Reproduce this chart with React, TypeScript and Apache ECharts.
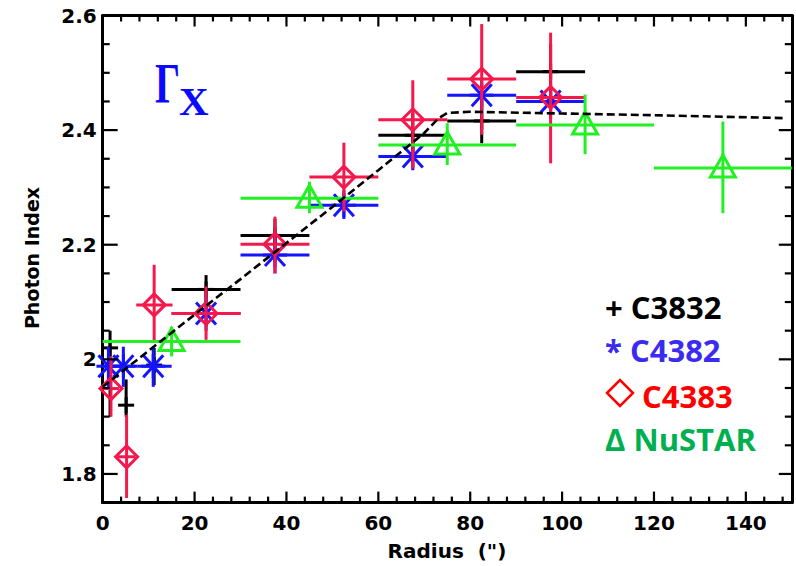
import React, { useEffect, useRef } from "react";
import * as echarts from "echarts";

// Each row: [radius, radiusLow, radiusHigh, photonIndex, indexLow, indexHigh]
const c3832 = [
  [1.6, 1.6, 1.6, 2.02, 1.9, 2.05],
  [5.1, 5.1, 5.1, 1.92, 1.9, 1.965],
  [11.2, 11.2, 11.2, 1.99, 1.955, 2.02],
  [22.5, 15, 30, 2.122, 2.095, 2.147],
  [37.5, 30, 45, 2.216, 2.17, 2.245],
  [67.5, 60, 75, 2.391, 2.35, 2.43],
  [82.5, 75, 90, 2.416, 2.377, 2.46],
  [97.5, 90, 105, 2.502, 2.45, 2.55],
];

const c4382 = [
  [1.25, 0, 2.5, 1.988, 1.952, 2.022],
  [4.5, 2.5, 7.5, 1.988, 1.952, 2.022],
  [11.0, 7.5, 15, 1.988, 1.952, 2.022],
  [22.5, 15, 30, 2.08, 2.05, 2.11],
  [37.5, 30, 45, 2.182, 2.15, 2.215],
  [52.5, 45, 60, 2.269, 2.245, 2.295],
  [67.5, 60, 75, 2.354, 2.33, 2.38],
  [82.5, 75, 90, 2.461, 2.43, 2.49],
  [97.5, 90, 105, 2.45, 2.42, 2.48],
];

const c4383 = [
  [1.8, 0, 3.6, 1.949, 1.9, 2.005],
  [5.2, 3.3, 7.1, 1.83, 1.758, 1.903],
  [11.2, 7.3, 15.2, 2.095, 2.031, 2.165],
  [22.5, 15, 30, 2.08, 2.034, 2.127],
  [37.5, 30, 45, 2.201, 2.15, 2.249],
  [52.5, 45, 60, 2.318, 2.258, 2.378],
  [67.5, 60, 75, 2.418, 2.333, 2.487],
  [82.5, 75, 90, 2.489, 2.392, 2.585],
  [97.5, 90, 105, 2.457, 2.342, 2.57],
];

const nustar = [
  [15, 0, 30, 2.031, 2.005, 2.057],
  [45, 30, 60, 2.281, 2.255, 2.31],
  [75, 60, 90, 2.374, 2.339, 2.412],
  [105, 90, 120, 2.409, 2.358, 2.462],
  [135, 120, 150, 2.334, 2.255, 2.415],
];

// Broken power-law style model profile (dashed curve)
const modelRadius = [0, 10, 20, 30, 40, 50, 60, 70, 73, 75, 80, 100, 120, 148];
const modelIndex = [1.952, 2.015, 2.078, 2.14, 2.203, 2.266, 2.33, 2.395, 2.42, 2.43, 2.432, 2.429, 2.426, 2.421];

const X_MIN = 0;
const X_MAX = 150;
const Y_MIN = 1.75;
const Y_MAX = 2.6;

const xMajorTicks = [0, 20, 40, 60, 80, 100, 120, 140];
const xMinorTicks = [4, 8, 12, 16, 24, 28, 32, 36, 44, 48, 52, 56, 64, 68, 72, 76, 84, 88, 92, 96, 104, 108, 112, 116, 124, 128, 132, 136, 144, 148];
const yMajorTicks = [1.8, 2.0, 2.2, 2.4, 2.6];
const yMinorTicks = [1.85, 1.9, 1.95, 2.05, 2.1, 2.15, 2.25, 2.3, 2.35, 2.45, 2.5, 2.55];

const LABEL_FONT = "DejaVu Sans";

type Kind = "plus" | "asterisk" | "diamond" | "triangle";

function markerShapes(kind: Kind, cx: number, cy: number, color: string) {
  const st = { stroke: color, lineWidth: 3, fill: "none" };
  const ln = (x1: number, y1: number, x2: number, y2: number) => ({
    type: "line",
    shape: { x1, y1, x2, y2 },
    style: st,
  });
  if (kind === "plus") {
    return [ln(cx - 8, cy, cx + 8, cy), ln(cx, cy - 8, cx, cy + 8)];
  }
  if (kind === "asterisk") {
    return [
      ln(cx - 12, cy, cx + 12, cy),
      ln(cx, cy - 12, cx, cy + 12),
      ln(cx - 10, cy - 11, cx + 10, cy + 11),
      ln(cx - 10, cy + 11, cx + 10, cy - 11),
    ];
  }
  if (kind === "diamond") {
    return [
      {
        type: "polygon",
        shape: { points: [[cx, cy - 11], [cx + 11, cy], [cx, cy + 11], [cx - 11, cy]] },
        style: st,
      },
    ];
  }
  return [
    {
      type: "polygon",
      shape: { points: [[cx, cy - 13], [cx + 12.5, cy + 9], [cx - 12.5, cy + 9]] },
      style: st,
    },
  ];
}

function errorSeries(name: string, data: number[][], color: string, kind: Kind) {
  return {
    name,
    type: "custom",
    silent: true,
    xAxisIndex: 0,
    yAxisIndex: 0,
    encode: { x: [0, 1, 2], y: [3, 4, 5] },
    data,
    renderItem: (_params: any, api: any) => {
      const x = api.value(0);
      const y = api.value(3);
      const c = api.coord([x, y]);
      const l = api.coord([api.value(1), y]);
      const h = api.coord([api.value(2), y]);
      const lo = api.coord([x, api.value(4)]);
      const hi = api.coord([x, api.value(5)]);
      const st = { stroke: color, lineWidth: 3 };
      return {
        type: "group",
        children: [
          { type: "line", shape: { x1: l[0], y1: c[1], x2: h[0], y2: c[1] }, style: st },
          { type: "line", shape: { x1: c[0], y1: lo[1], x2: c[0], y2: hi[1] }, style: st },
          ...markerShapes(kind, c[0], c[1], color),
        ],
      };
    },
  };
}

const labelStyle = {
  color: "#000",
  fontFamily: LABEL_FONT,
  fontWeight: "bold",
  fontSize: 20,
};

const frame = { show: true, onZero: false, lineStyle: { color: "#000", width: 3 } };

function plainAxis(dim: "x" | "y", position: string, label: Record<string, any> | null) {
  return {
    type: "value",
    position,
    min: dim === "x" ? X_MIN : Y_MIN,
    max: dim === "x" ? X_MAX : Y_MAX,
    axisLine: frame,
    axisTick: { show: false },
    axisLabel: label ? { show: true, ...labelStyle, ...label } : { show: false },
    splitLine: { show: false },
  };
}

export default function App() {
  const ref = useRef<HTMLDivElement>(null);

  useEffect(() => {
    if (!ref.current) return;
    const chart = echarts.init(ref.current, undefined, { renderer: "svg" });

    const legendFont = 'bold 31px "Open Sans"';

    const baseGraphic: any[] = [
      {
        type: "text",
        x: 31.7,
        y: 258,
        rotation: Math.PI / 2,
        style: {
          text: "Photon Index",
          font: `bold 19px "${LABEL_FONT}"`,
          fill: "#000",
          textAlign: "center",
          textVerticalAlign: "middle",
        },
      },
      {
        type: "text",
        x: 447,
        y: 551,
        style: {
          text: 'Radius  (")',
          font: `bold 20px "${LABEL_FONT}"`,
          fill: "#000",
          textAlign: "center",
          textVerticalAlign: "middle",
        },
      },
      {
        type: "text",
        x: 155,
        y: 84,
        scaleX: 0.68,
        style: {
          text: "Γ",
          font: 'bold 58px "Liberation Serif"',
          fill: "#0a0aff",
          textAlign: "left",
          textVerticalAlign: "middle",
        },
      },
      {
        type: "text",
        x: 179,
        y: 101,
        style: {
          text: "X",
          font: 'bold 41px "Liberation Serif"',
          fill: "#0a0aff",
          textAlign: "left",
          textVerticalAlign: "middle",
        },
      },
      {
        type: "text",
        x: 605,
        y: 306.5,
        style: { text: "+ C3832", font: legendFont, fill: "#000", textAlign: "left", textVerticalAlign: "middle" },
      },
      {
        type: "text",
        x: 605,
        y: 350,
        style: { text: "* C4382", font: legendFont, fill: "#3b2bf0", textAlign: "left", textVerticalAlign: "middle" },
      },
      {
        type: "polygon",
        shape: { points: [[607, 393], [620, 380], [633, 393], [620, 406]] },
        style: { stroke: "#ff0000", lineWidth: 2.5, fill: "none" },
      },
      {
        type: "text",
        x: 642,
        y: 396,
        style: { text: "C4383", font: legendFont, fill: "#ff0000", textAlign: "left", textVerticalAlign: "middle" },
      },
      {
        type: "text",
        x: 605,
        y: 439,
        style: { text: "Δ NuSTAR", font: legendFont, fill: "#00b050", textAlign: "left", textVerticalAlign: "middle" },
      },
    ];

    chart.setOption({
      animation: false,
      grid: { left: 102.7, right: 4.2, top: 15.5, bottom: 63.4 },
      xAxis: [
        plainAxis("x", "bottom", { customValues: xMajorTicks, margin: 10 }),
        plainAxis("x", "top", null),
      ],
      yAxis: [
        plainAxis("y", "left", {
          customValues: yMajorTicks,
          margin: 6,
          formatter: (v: number) => (Math.abs(v - 2) < 1e-9 ? "2" : v.toFixed(1)),
        }),
        plainAxis("y", "right", null),
      ],
      series: [
        errorSeries("C3832", c3832, "#000000", "plus"),
        errorSeries("C4382", c4382, "#1414ff", "asterisk"),
        errorSeries("C4383", c4383, "#f5184c", "diamond"),
        errorSeries("NuSTAR", nustar, "#22f022", "triangle"),
        {
          name: "model",
          type: "line",
          silent: true,
          xAxisIndex: 0,
          yAxisIndex: 0,
          showSymbol: false,
          data: modelRadius.map((r, i) => [r, modelIndex[i]]),
          lineStyle: { color: "#000", width: 2.6, type: [8, 4] },
          z: 5,
        },
      ],
      graphic: baseGraphic,
    });

    // Inward frame ticks, placed with the grid's own scales
    const toPx = (x: number, y: number) =>
      chart.convertToPixel({ gridIndex: 0 }, [x, y]) as number[];
    const tickStyle = { stroke: "#000", lineWidth: 2.2 };
    const ticks: any[] = [];
    const addX = (v: number, len: number) => {
      const b = toPx(v, Y_MIN);
      const t = toPx(v, Y_MAX);
      ticks.push({ type: "line", z: 100, shape: { x1: b[0], y1: b[1], x2: b[0], y2: b[1] - len }, style: tickStyle });
      ticks.push({ type: "line", z: 100, shape: { x1: t[0], y1: t[1], x2: t[0], y2: t[1] + len }, style: tickStyle });
    };
    const addY = (v: number, leftLen: number, rightLen: number) => {
      const l = toPx(X_MIN, v);
      const r = toPx(X_MAX, v);
      ticks.push({ type: "line", z: 100, shape: { x1: l[0], y1: l[1], x2: l[0] + leftLen, y2: l[1] }, style: tickStyle });
      ticks.push({ type: "line", z: 100, shape: { x1: r[0], y1: r[1], x2: r[0] - rightLen, y2: r[1] }, style: tickStyle });
    };
    xMajorTicks.forEach((v) => addX(v, 11));
    xMinorTicks.forEach((v) => addX(v, 6));
    yMajorTicks.forEach((v) => addY(v, 15, 13));
    yMinorTicks.forEach((v) => addY(v, 7, 7));

    chart.setOption({ graphic: [...baseGraphic, ...ticks] });

    return () => chart.dispose();
  }, []);

  return (
    <div
      ref={ref}
      style={{ position: "fixed", left: 0, top: 0, width: 796, height: 566, background: "#fff" }}
    />
  );
}
